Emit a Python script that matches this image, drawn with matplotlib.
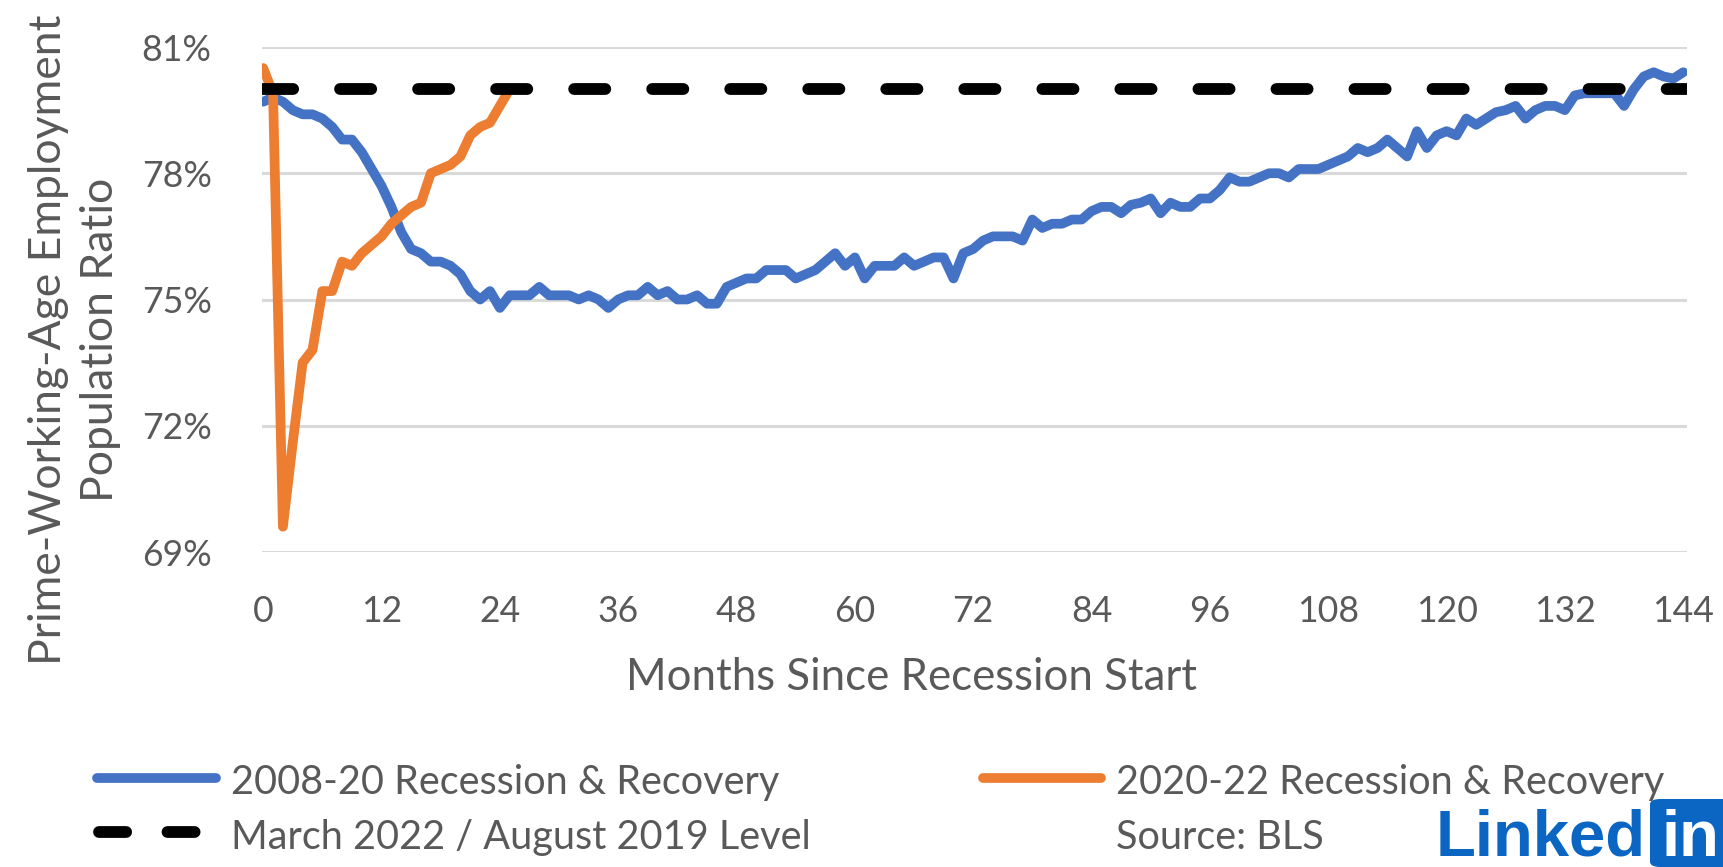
import matplotlib
matplotlib.use("Agg")
import matplotlib.pyplot as plt
from matplotlib import font_manager
from matplotlib.lines import Line2D
from matplotlib.patches import FancyBboxPatch

# prime-age employment-population ratio, months since recession start
blue_0820 = [
    79.7, 79.8, 79.7, 79.5, 79.4, 79.4, 79.3, 79.1, 78.8, 78.8, 78.5, 78.1,
    77.7, 77.2, 76.6, 76.2, 76.1, 75.9, 75.9, 75.8, 75.6, 75.2, 75.0, 75.2,
    74.8, 75.1, 75.1, 75.1, 75.3, 75.1, 75.1, 75.1, 75.0, 75.1, 75.0, 74.8,
    75.0, 75.1, 75.1, 75.3, 75.1, 75.2, 75.0, 75.0, 75.1, 74.9, 74.9, 75.3,
    75.4, 75.5, 75.5, 75.7, 75.7, 75.7, 75.5, 75.6, 75.7, 75.9, 76.1, 75.8,
    76.0, 75.5, 75.8, 75.8, 75.8, 76.0, 75.8, 75.9, 76.0, 76.0, 75.5, 76.1,
    76.2, 76.4, 76.5, 76.5, 76.5, 76.4, 76.9, 76.7, 76.8, 76.8, 76.9, 76.9,
    77.1, 77.2, 77.2, 77.05, 77.25, 77.3, 77.4, 77.05, 77.3, 77.2, 77.2, 77.4,
    77.4, 77.6, 77.9, 77.8, 77.8, 77.9, 78.0, 78.0, 77.9, 78.1, 78.1, 78.1,
    78.2, 78.3, 78.4, 78.6, 78.5, 78.6, 78.8, 78.6, 78.4, 79.0, 78.6, 78.9,
    79.0, 78.9, 79.3, 79.15, 79.3, 79.45, 79.5, 79.6, 79.3, 79.5, 79.6, 79.6,
    79.5, 79.85, 79.9, 79.9, 79.9, 79.9, 79.6, 80.0, 80.3, 80.4, 80.3, 80.25,
    80.4,
]
orange_2022 = [
    80.5, 79.9, 69.6, 71.6, 73.5, 73.8, 75.2, 75.2, 75.9, 75.8, 76.1, 76.3,
    76.5, 76.8, 77.0, 77.2, 77.3, 78.0, 78.1, 78.2, 78.4, 78.9, 79.1, 79.2,
    79.6, 80.0,
]
level_2019 = 80.0
y_ticks = [69, 72, 75, 78, 81]
x_ticks = list(range(0, 145, 12))

label_blue = "2008-20 Recession & Recovery"
label_orange = "2020-22 Recession & Recovery"
label_level = "March 2022 / August 2019 Level"
source = "Source: BLS"

BLUE = "#4472C4"
ORANGE = "#ED7D31"
GREY = "#595959"
GRID = "#d9d9d9"
LI_BLUE = "#0a66c2"

names = {f.name for f in font_manager.fontManager.ttflist}
if "Liberation Sans Narrow" in names:
    FONT, K = "Liberation Sans Narrow", 1.0
else:
    FONT, K = "Lato", 0.84
plt.rcParams["font.family"] = [FONT, "DejaVu Sans"]

W, H = 1724, 867
fig = plt.figure(figsize=(W / 100, H / 100), dpi=100)
fig.patch.set_facecolor("white")


def fx(px):
    return px / W


def fy(py):
    return 1 - py / H


ax = fig.add_axes([fx(261.7), fy(552), (1686.7 - 261.7) / W, (552 - 47) / H])

months_blue = list(range(len(blue_0820)))
months_orange = list(range(len(orange_2022)))
ax.plot(months_blue, blue_0820, color=BLUE, lw=7, solid_capstyle="round",
        solid_joinstyle="round", zorder=3)
ax.plot(months_orange, orange_2022, color=ORANGE, lw=7, solid_capstyle="round",
        solid_joinstyle="round", zorder=4)
ax.axhline(level_2019, color="black", lw=8.5, dashes=(2.64, 3.97),
           dash_capstyle="round", zorder=5)

ax.set_xlim(-0.15, 144.35)
ax.set_ylim(69, 81)
ax.set_yticks(y_ticks)
ax.set_yticklabels([f"{v}%" for v in y_ticks])
ax.set_xticks(x_ticks)
ax.grid(axis="y", color=GRID, lw=2.2, zorder=0)
ax.set_axisbelow(True)
for s in ax.spines.values():
    s.set_visible(False)
ax.tick_params(axis="y", length=0, pad=36, labelsize=30.5 * K, labelcolor=GREY)
ax.tick_params(axis="x", length=0, pad=31, labelsize=30.5 * K, labelcolor=GREY)

# axis titles
fig.text(fx(49), fy(340), "Prime-Working-Age Employment", rotation=90,
         ha="center", va="center", fontsize=38.2 * K, color=GREY)
fig.text(fx(101), fy(340), "Population Ratio", rotation=90,
         ha="center", va="center", fontsize=38.2 * K, color=GREY)
fig.text(fx(912), fy(690), "Months Since Recession Start", ha="center",
         va="baseline", fontsize=37.5 * K, color=GREY)

# legend, laid out by hand like the Excel original
fig.add_artist(Line2D([fx(97), fx(216)], [fy(778), fy(778)], transform=fig.transFigure,
                      color=BLUE, lw=7, solid_capstyle="round"))
fig.add_artist(Line2D([fx(983), fx(1101)], [fy(778), fy(778)], transform=fig.transFigure,
                      color=ORANGE, lw=7, solid_capstyle="round"))
fig.add_artist(Line2D([fx(99), fx(214)], [fy(832), fy(832)], transform=fig.transFigure,
                      color="black", lw=8.5, dashes=(2.3, 3.5), dash_capstyle="round"))
fig.text(fx(231), fy(794), label_blue, fontsize=34 * K, color=GREY, va="baseline")
fig.text(fx(1116), fy(794), label_orange, fontsize=34 * K, color=GREY, va="baseline")
fig.text(fx(231), fy(849), label_level, fontsize=34 * K, color=GREY, va="baseline")
fig.text(fx(1116), fy(849), source, fontsize=34 * K, color=GREY, va="baseline")

# LinkedIn mark
fig.text(fx(1436), fy(856), "Linked", fontsize=47, color=LI_BLUE,
         family=["Liberation Sans", "DejaVu Sans"], weight="bold", va="baseline")
fig.add_artist(FancyBboxPatch((fx(1650), fy(867)), fx(90), 68 / H,
                              boxstyle="round,pad=0,rounding_size=0.006",
                              transform=fig.transFigure, fc=LI_BLUE, ec="none"))
fig.text(fx(1662), fy(856), "in", fontsize=47, color="white",
         family=["Liberation Sans", "DejaVu Sans"], weight="bold", va="baseline")

fig.savefig("out.png", dpi=100)
